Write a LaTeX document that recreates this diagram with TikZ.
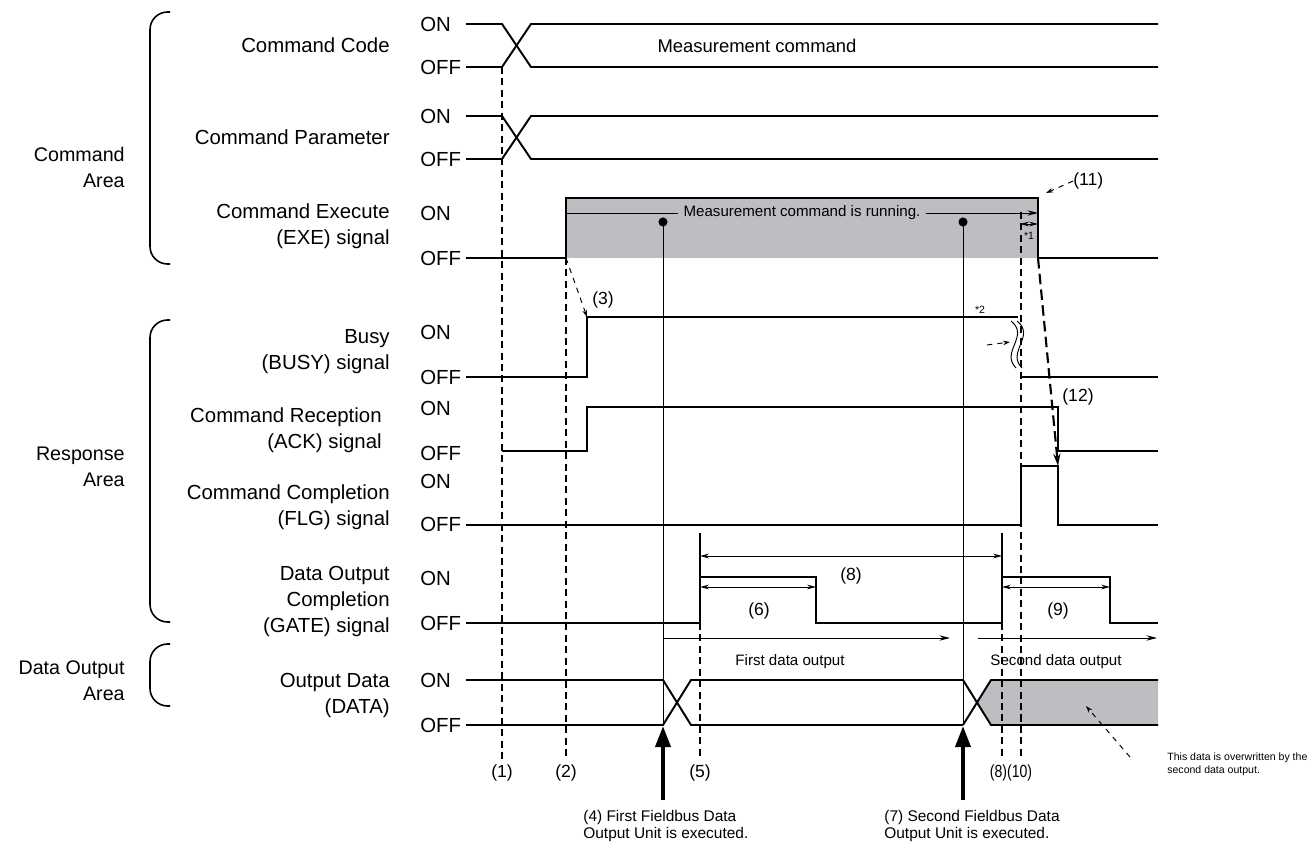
\documentclass[tikz,border=0pt]{standalone}
\usepackage{fontspec}
\setmainfont{Liberation Sans}
\usetikzlibrary{arrows.meta,positioning,calc}
\definecolor{runfill}{RGB}{189,190,193}

\begin{document}
\begin{tikzpicture}[
    x=0.02cm, y=-0.02cm,
    sig/.style={line width=1.1pt},
    thinline/.style={line width=0.55pt},
    guide/.style={line width=0.6pt, dash pattern=on 4pt off 2.5pt},
    signame/.style={font=\fontsize{11.6}{14.8}\selectfont, align=right, anchor=east, inner sep=0pt},
    areaname/.style={font=\fontsize{11.2}{14.8}\selectfont, align=right, anchor=east, inner sep=0pt},
    level/.style={font=\fontsize{11.6}{13}\selectfont, anchor=west, inner sep=0pt},
    num/.style={font=\fontsize{10}{12}\selectfont, inner sep=0pt},
    midtext/.style={font=\fontsize{8.6}{10}\selectfont, inner sep=0pt},
    note/.style={font=\fontsize{8.8}{9.4}\selectfont, align=left, anchor=north west, inner sep=0pt},
    tinytext/.style={font=\fontsize{6}{7.4}\selectfont, inner sep=0pt},
    dim/.style={thinline, {Stealth[length=5pt,width=2.6pt]}-{Stealth[length=5pt,width=2.6pt]}},
    pointer/.style={thinline, dashed, -{Stealth[length=4pt,width=2.6pt]}},
    areabrace/.style={line width=0.9pt, rounded corners=10pt},
    trigger/.style={line width=2.3pt, -{Triangle[length=12pt,width=8.5pt]}}
]
\useasboundingbox (0,0) rectangle (1309,851);

% Areas
\draw[areabrace] (170,12) -- (150,12) -- (150,264) -- (170,264);
\draw[areabrace] (170,320) -- (150,320) -- (150,622) -- (170,622);
\draw[areabrace] (170,644) -- (150,644) -- (150,706) -- (170,706);
\node[areaname] (cmdarea) at (125,167) {Command\\Area};
\node[areaname] (resarea) at (125,467) {Response\\Area};
\node[areaname] (outarea) at (125,681) {Data Output\\Area};

% Signal names
\node[signame] (code) at (390,45) {Command Code};
\node[signame] (param) at (390,137) {Command Parameter};
\node[signame] (exe) at (390,226) {Command Execute\\(EXE) signal};
\node[signame] (busy) at (390,352) {Busy\\(BUSY) signal};
\node[signame] (ack) at (382,430) {Command Reception\\(ACK) signal};
\node[signame] (flg) at (390,507) {Command Completion\\(FLG) signal};
\node[signame] (gate) at (390,601) {Data Output\hspace{4.5pt}\\Completion\\(GATE) signal};
\node[signame] (data) at (390,695) {Output Data\\(DATA)};

% ON / OFF levels
\foreach \lon/\loff [count=\i] in {24/67, 116/159, 213/258, 332/377, 408/453, 481/524, 578/623, 680/725} {
  \node[level] (on\i) at (420,\lon) {ON};
  \node[level] (off\i) at (420,\loff) {OFF};
}

% Command code and parameter
\draw[sig] (466,24) -- (502,24) -- (531,67) -- (1158,67);
\draw[sig] (466,67) -- (502,67) -- (531,24) -- (1158,24);
\node[font=\fontsize{10.5}{12}\selectfont] (meas) at (757,46) {Measurement command};
\draw[sig] (466,116) -- (502,116) -- (531,159) -- (1158,159);
\draw[sig] (466,159) -- (502,159) -- (531,116) -- (1158,116);

% EXE
\fill[runfill] (566,198) rectangle (1038,258);
\draw[sig] (466,258) -- (566,258) -- (566,198) -- (1038,198) -- (1038,258) -- (1158,258);
\coordinate (runstart) at (566,213);
\coordinate (runend) at (1038,213);
\draw[thinline, -{Stealth[length=6pt,width=3pt]}] (runstart) -- (runend)
  node[midtext, fill=runfill, inner xsep=3pt, inner ysep=1pt, pos=0.5] (running) {Measurement command is running.};
\fill (663,222) circle (2.6pt) coordinate (dot1);
\fill (963,222) circle (2.6pt) coordinate (dot2);
\draw[dim] (1020,224) -- (1038,224);
\node[tinytext] (star1) at (1029,236) {*1};
\node[num, anchor=west] (n11) at (1073,181) {(11)};
\draw[pointer] (n11.west) -- (1046,193);

% BUSY
\draw[sig] (466,377) -- (587,377) -- (587,317) -- (1018,317);
\draw[sig] (1020,377) -- (1158,377);
\node[tinytext] (star2) at (980,310) {*2};
\draw[thinline] (1011,321) .. controls (1030,336) and (1000,352) .. (1016,368);
\draw[thinline] (1017,321) .. controls (1036,336) and (1006,352) .. (1022,368);
\coordinate (breakpt) at (1010,342);
\draw[pointer] (987,345) -- (breakpt);

% ACK
\draw[sig] (502,451) -- (587,451) -- (587,407) -- (1058,407) -- (1058,451) -- (1158,451);
% FLG
\draw[sig] (466,525) -- (1021,525) -- (1021,466) -- (1058,466) -- (1058,525) -- (1158,525);

% GATE
\draw[sig] (466,623) -- (700,623) -- (700,577) -- (816,577) -- (816,623) -- (1002,623)
  -- (1002,577) -- (1110,577) -- (1110,623) -- (1158,623);
\draw[sig] (700,577) -- (700,533);
\draw[sig] (1002,577) -- (1002,533);
\draw[dim] (700,556) -- (1002,556);
\node[num] (n8) at (851,576) {(8)};
\draw[dim] (700,587) -- (816,587);
\node[num] (n6) at (759,611) {(6)};
\draw[dim] (1002,587) -- (1110,587);
\node[num] (n9) at (1058,611) {(9)};

% Data output
\draw[thinline, -{Stealth[length=6pt,width=3pt]}] (663,638) -- (950,638);
\draw[thinline, -{Stealth[length=6pt,width=3pt]}] (978,638) -- (1157,638);
\node[midtext] (first) at (790,662) {First data output};
\node[midtext] (second) at (1056,662) {Second data output};
\draw[sig] (466,680) -- (663,680) -- (691,725) -- (963,725);
\draw[sig] (466,725) -- (663,725) -- (691,680) -- (963,680);
\fill[runfill] (977,702.5) -- (991,680) -- (1158,680) -- (1158,725) -- (991,725) -- cycle;
\draw[sig] (963,680) -- (991,725) -- (1158,725);
\draw[sig] (963,725) -- (991,680) -- (1158,680);
\draw[thinline] (dot1) -- (663,725);
\draw[thinline] (dot2) -- (963,725);
\node[tinytext, anchor=north west, align=left] (overwr) at (1167,753)
  {This data is overwritten by the\\second data output.};
\draw[pointer] (1130,757) -- (1086,706);

% Timing guides
\draw[guide] (502,67) -- (502,760);
\draw[guide] (566,258) -- (566,760);
\draw[guide] (700,623) -- (700,760);
\draw[guide] (1002,623) -- (1002,760);
\draw[guide] (1021,212) -- (1021,760);
\draw[pointer] (566,258) -- (587,317);
\node[num] (n3) at (603,300) {(3)};
\draw[line width=1.2pt, dash pattern=on 6pt off 3pt, -{Stealth[length=7pt,width=4pt]}] (1038,258) -- (1058,466);
\node[num] (n12) at (1078,397) {(12)};

% Labels
\node[num] (n1) at (502,773) {(1)};
\node[num] (n2) at (566,773) {(2)};
\node[num] (n5) at (700,773) {(5)};
\node[num] (n810) at (1011,773) {\scalebox{0.8}[1]{(8)(10)}};

% Fieldbus triggers
\draw[trigger] (663,800) -- (663,726);
\draw[trigger] (963,800) -- (963,726);
\node[note] (unit1) at (583,810) {(4) First Fieldbus Data\\Output Unit is executed.};
\node[note] (unit2) at (884,810) {(7) Second Fieldbus Data\\Output Unit is executed.};

\end{tikzpicture}
\end{document}
